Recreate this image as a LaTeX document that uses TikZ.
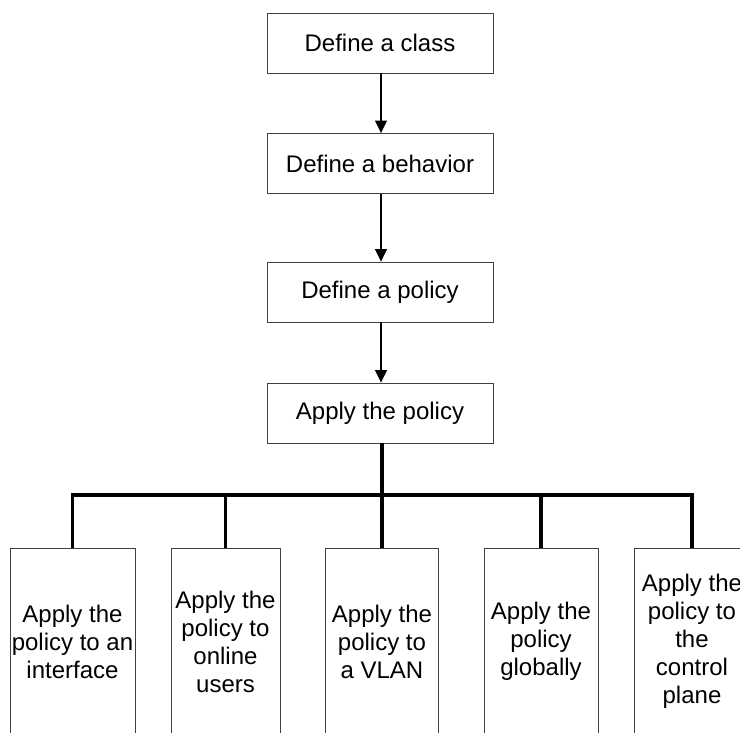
\documentclass[tikz,border=0pt]{standalone}
\usepackage{fontspec}
\setmainfont{Liberation Sans}
\usetikzlibrary{arrows.meta}
\begin{document}
\begin{tikzpicture}[x=1pt,y=-1pt,
  topbox/.style={draw=black!75,line width=0.9pt,minimum width=226pt,minimum height=60pt,inner sep=0pt,font=\fontsize{24}{28}\selectfont},
  botbox/.style={draw=black!75,line width=0.9pt,minimum height=186pt,inner sep=0pt,anchor=north,align=center,font=\fontsize{24}{28}\selectfont},
  flow/.style={line width=1.4pt,-{Triangle[length=12.5pt,width=12pt]}},
  bus/.style={line width=3.5pt,line join=miter}]
\useasboundingbox (0,0) rectangle (740,732);
\clip (0,0) rectangle (740,732);
\node[topbox] (cls) at (380,43) {Define a class};
\node[topbox] (beh) at (380,163.5) {Define a behavior};
\node[topbox] (pol) at (380,292) {Define a policy};
\node[topbox] (app) at (380,413) {Apply the policy};
\draw[flow] ([xshift=1pt]cls.south) -- ([xshift=1pt]beh.north);
\draw[flow] ([xshift=1pt]beh.south) -- ([xshift=1pt]pol.north);
\draw[flow] ([xshift=1pt]pol.south) -- ([xshift=1pt]app.north);
\node[botbox,minimum width=125pt] (b1) at (72.5,548) {Apply the\\policy to an\\interface};
\node[botbox,minimum width=109pt] (b2) at (225.5,548) {Apply the\\policy to\\online\\users};
\node[botbox,minimum width=113pt] (b3) at (382,548) {Apply the\\policy to\\a VLAN};
\node[botbox,minimum width=114pt] (b4) at (541,548) {Apply the\\policy\\globally};
\node[botbox,minimum width=116pt] (b5) at (692,548) {Apply the\\policy to\\the\\control\\plane};
\coordinate (bus) at (382,495);
\draw[bus] (app.south -| bus) -- (bus);
\draw[bus] (b1.north) |- (b5.north |- bus) -- (b5.north);
\draw[bus] (b2.north) -- (b2.north |- bus);
\draw[bus] (b3.north) -- (b3.north |- bus);
\draw[bus] (b4.north) -- (b4.north |- bus);
\end{tikzpicture}
\end{document}
